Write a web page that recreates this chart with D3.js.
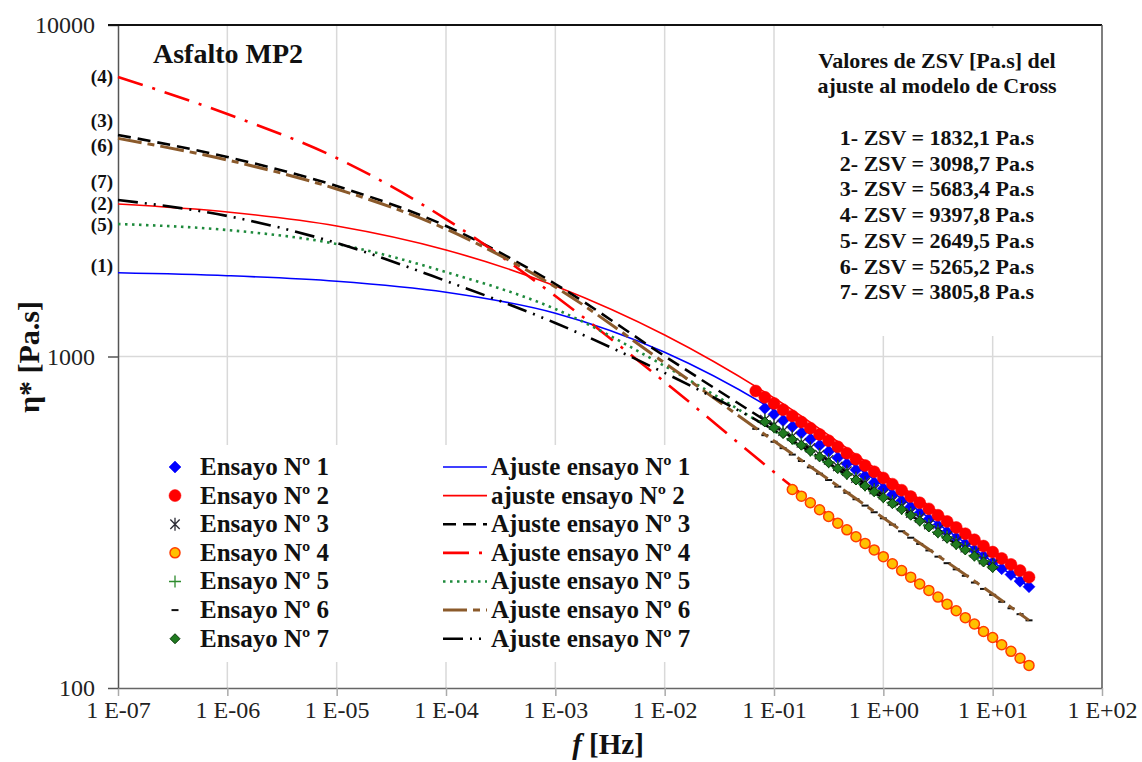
<!DOCTYPE html>
<html>
<head>
<meta charset="utf-8">
<script src="https://cdn.jsdelivr.net/npm/d3@7"></script>
<style>
body { margin: 0; background: #fff; }
svg { font-family: "Liberation Serif", "Times New Roman", serif; }
</style>
</head>
<body>
<svg width="1142" height="762"></svg>
<script>
// axis ticks
var xTicks = [1e-7, 1e-6, 1e-5, 1e-4, 1e-3, 1e-2, 1e-1, 1, 10, 100];
var xTickLabels = ["1 E-07", "1 E-06", "1 E-05", "1 E-04", "1 E-03", "1 E-02", "1 E-01", "1 E+00", "1 E+01", "1 E+02"];
var yTicks = [100, 1000, 10000];
var yTickLabels = ["100", "1000", "10000"];

// measured frequency sweep [Hz]
var freqSweep = [0.0681, 0.0825, 0.1, 0.121, 0.147, 0.178, 0.215, 0.261, 0.316, 0.383, 0.464,
  0.562, 0.681, 0.825, 1, 1.21, 1.47, 1.78, 2.15, 2.61, 3.16, 3.83, 4.64, 5.62, 6.81, 8.25,
  10, 12.1, 14.7, 17.8, 21.5];

// measured eta* [Pa.s] (ensayos)
var eta1 = [698, 669, 641, 614, 588, 563, 540, 517, 495, 475, 455, 436, 417, 400, 383, 367,
  352, 337, 323, 309, 296, 284, 272, 261, 250, 239, 229, 220, 210, 202];            // 0.0825 .. 21.5
var eta2 = [787, 753, 722, 691, 662, 634, 608, 582, 557, 534, 511, 490, 469, 449, 430, 412,
  395, 378, 362, 347, 332, 318, 305, 292, 280, 268, 257, 246, 236, 226, 216];       // 0.0681 .. 21.5
var eta3 = [645, 622, 596, 574, 549, 530, 506, 488, 466, 451, 430, 416, 397, 383, 366, 353,
  337, 326, 311, 300, 287, 277, 265, 256, 244, 236];                                // 0.0825 .. 10
var eta4 = [397, 379, 362, 345, 329, 314, 300, 286, 273, 261, 249, 237, 226, 216, 206, 197,
  188, 179, 171, 163, 156, 148, 142, 135, 129, 123, 117];                           // 0.147 .. 21.5
var eta5 = [640, 612, 590, 565, 545, 520, 502, 480, 463, 442, 428, 408, 394, 376, 363, 347,
  335, 320, 309, 295, 285, 272, 263, 251, 242, 232];                                // 0.0825 .. 10
var eta6 = [605, 579, 553, 529, 506, 484, 463, 443, 424, 405, 388, 371, 355, 339, 325, 311,
  297, 284, 272, 260, 249, 238, 228, 218, 208, 199, 191, 182, 174, 167, 160];       // 0.0681 .. 21.5
var eta7 = [635, 610, 586, 563, 540, 519, 498, 478, 459, 441, 424, 407, 391, 375, 360, 346,
  332, 319, 306, 294, 283, 271, 261, 250, 240, 231];                                // 0.0825 .. 10
var etaStart = [1, 0, 1, 4, 1, 0, 1];   // index of first frequency in freqSweep

// Cross model fits, read at these frequencies
var fitFreq = [1e-7, 1e-6, 1e-5, 1e-4, 1e-3, 1e-2, 0.1, 1, 10, 21.5];
var fit1 = [1789, 1753, 1687, 1563, 1351, 1030, 689, 407, 240, 202];
var fit2 = [2884, 2729, 2476, 2096, 1632, 1161, 750, 442, 261, 219];
var fit3 = [4658, 3998, 3268, 2476, 1654, 1003, 617, 382, 237];
var fit4 = [6968, 5389, 3970, 2598, 1522, 838, 448, 248, 141, 117];
var fit5 = [2510, 2407, 2185, 1798, 1391, 936, 596, 372, 229];
var fit6 = [4550, 3915, 3201, 2424, 1621, 956, 556, 326, 192, 160];
var fit7 = [2966, 2654, 2199, 1690, 1262, 892, 600, 374, 232];

var seriesNames = ["Ensayo Nº 1", "Ensayo Nº 2", "Ensayo Nº 3", "Ensayo Nº 4", "Ensayo Nº 5", "Ensayo Nº 6", "Ensayo Nº 7"];
var fitNames = ["Ajuste ensayo Nº 1", "ajuste ensayo Nº 2", "Ajuste ensayo Nº 3", "Ajuste ensayo Nº 4",
  "Ajuste ensayo Nº 5", "Ajuste ensayo Nº 6", "Ajuste ensayo Nº 7"];
var zsvTitle = ["Valores de ZSV [Pa.s] del", "ajuste al modelo de Cross"];
var zsvLines = ["1- ZSV = 1832,1 Pa.s", "2- ZSV = 3098,7 Pa.s", "3- ZSV = 5683,4 Pa.s", "4- ZSV = 9397,8 Pa.s",
  "5- ZSV = 2649,5 Pa.s", "6- ZSV = 5265,2 Pa.s", "7- ZSV = 3805,8 Pa.s"];
var curveTags = ["(1)", "(2)", "(3)", "(4)", "(5)", "(6)", "(7)"];
var curveTagEta = [1888, 2890, 5169, 6980, 2510, 4345, 3380];

var etaSeries = [eta1, eta2, eta3, eta4, eta5, eta6, eta7];
var fitSeries = [fit1, fit2, fit3, fit4, fit5, fit6, fit7];

var svg = d3.select("svg"),
    margin = {top: 25, left: 118},
    width = 984,
    height = 663;

svg.append("rect").attr("width", 1142).attr("height", 762).attr("fill", "#fff");

var x = d3.scaleLog().domain([1e-7, 100]).range([0, width]),
    y = d3.scaleLog().domain([100, 10000]).range([height, 0]);

var g = svg.append("g").attr("transform", "translate(" + margin.left + "," + margin.top + ")");

// gridlines
g.append("g").selectAll("line")
  .data(xTicks.slice(1, -1))
  .join("line")
    .attr("x1", d => x(d)).attr("x2", d => x(d))
    .attr("y1", 0).attr("y2", height)
    .attr("stroke", "#d9d9d9").attr("stroke-width", 1.5);
g.append("line")
    .attr("x1", 0).attr("x2", width)
    .attr("y1", y(1000)).attr("y2", y(1000))
    .attr("stroke", "#d9d9d9").attr("stroke-width", 1.5);

// white boxes behind the text blocks
g.append("rect").attr("x", 658).attr("y", 3).attr("width", 324).attr("height", 308).attr("fill", "#fff");
g.append("rect").attr("x", 32).attr("y", 420).attr("width", 560).attr("height", 217).attr("fill", "#fff");

// axes
var xAxis = d3.axisBottom(x)
    .tickValues(xTicks)
    .tickFormat((d, i) => xTickLabels[i])
    .tickSize(8).tickSizeOuter(0).tickPadding(5);
var yAxis = d3.axisLeft(y)
    .tickValues(yTicks)
    .tickFormat((d, i) => yTickLabels[i])
    .tickSize(10).tickSizeOuter(0).tickPadding(13);

var xg = g.append("g").attr("transform", "translate(0," + height + ")").call(xAxis);
xg.select(".domain").attr("stroke", "#666").attr("stroke-width", 1.5);
xg.selectAll(".tick line").attr("stroke", "#aaa").attr("stroke-width", 1.5);
xg.selectAll(".tick text").attr("font-size", 24).attr("font-family", "Liberation Serif").attr("fill", "#222");

var yg = g.append("g").call(yAxis);
yg.select(".domain").attr("stroke", "#555").attr("stroke-width", 1.5);
yg.selectAll(".tick line").attr("stroke", "#555").attr("stroke-width", 1.5);
yg.selectAll(".tick text").attr("font-size", 24).attr("font-family", "Liberation Serif").attr("fill", "#222");

// frame
g.append("line").attr("x1", -10).attr("x2", width).attr("y1", 0).attr("y2", 0)
    .attr("stroke", "#111").attr("stroke-width", 2.2);
g.append("line").attr("x1", width).attr("x2", width).attr("y1", 0).attr("y2", height)
    .attr("stroke", "#555").attr("stroke-width", 1.5);

// styles
var fitStyle = [
  {color: "#0000ff", w: 1.6, dash: null},
  {color: "#ff0000", w: 1.6, dash: null},
  {color: "#000000", w: 2.6, dash: "13,7"},
  {color: "#ff0000", w: 2.6, dash: "26,10,3,10"},
  {color: "#1e8a3c", w: 2.6, dash: "2.5,4.5"},
  {color: "#8b5a2b", w: 3, dash: "24,6,7,6"},
  {color: "#000000", w: 2.6, dash: "20,7,2,7,2,7"}
];

var symbolTypes = {
  diamond: {draw: function(c, r) { c.moveTo(0, -r); c.lineTo(r, 0); c.lineTo(0, r); c.lineTo(-r, 0); c.closePath(); }},
  circle: {draw: function(c, r) { c.moveTo(r, 0); c.arc(0, 0, r, 0, 2 * Math.PI); }},
  asterisk: {draw: function(c, r) {
    var k = r * 0.72;
    c.moveTo(0, -r); c.lineTo(0, r);
    c.moveTo(-k, -k); c.lineTo(k, k);
    c.moveTo(-k, k); c.lineTo(k, -k);
  }},
  plus: {draw: function(c, r) { c.moveTo(-r, 0); c.lineTo(r, 0); c.moveTo(0, -r); c.lineTo(0, r); }},
  dash: {draw: function(c, r) { c.moveTo(-r, 0); c.lineTo(r, 0); }}
};

var markerStyle = [
  {type: "diamond", r: 6, fill: "#0000ff", stroke: "#0000ff", sw: 0.5},
  {type: "circle", r: 6, fill: "#ff0000", stroke: "#ff0000", sw: 0.5},
  {type: "asterisk", r: 6.5, fill: "none", stroke: "#2a2a34", sw: 1.3},
  {type: "circle", r: 5, fill: "#ffc000", stroke: "#ff3c00", sw: 1.5},
  {type: "plus", r: 6, fill: "none", stroke: "#2e8b2e", sw: 1.3},
  {type: "dash", r: 3.5, fill: "none", stroke: "#111", sw: 2},
  {type: "diamond", r: 5, fill: "#1f7a1f", stroke: "#0a3a0a", sw: 1}
];

function symbolPath(m) {
  return d3.symbol().type(symbolTypes[m.type]).size(m.r)();
}

function drawMarkers(i) {
  var m = markerStyle[i];
  var pts = etaSeries[i].map((v, j) => [freqSweep[etaStart[i] + j], v]);
  g.append("g").selectAll("path")
    .data(pts)
    .join("path")
      .attr("transform", d => "translate(" + x(d[0]) + "," + y(d[1]) + ")")
      .attr("d", symbolPath(m))
      .attr("fill", m.fill).attr("stroke", m.stroke).attr("stroke-width", m.sw);
}

var line = d3.line()
    .curve(d3.curveMonotoneX)
    .x(d => x(d[0]))
    .y(d => y(d[1]));

// series 6 markers sit under the brown fit line
drawMarkers(5);

fitSeries.forEach(function(vals, i) {
  var s = fitStyle[i];
  g.append("path")
    .datum(vals.map((v, j) => [fitFreq[j], v]))
    .attr("fill", "none")
    .attr("stroke", s.color)
    .attr("stroke-width", s.w)
    .attr("stroke-dasharray", s.dash)
    .attr("d", line);
});

[0, 1, 2, 4, 6, 3].forEach(drawMarkers);

// curve tags at the left edge
g.append("g").selectAll("text")
  .data(curveTags)
  .join("text")
    .attr("x", -5)
    .attr("y", (d, i) => y(curveTagEta[i]))
    .attr("dy", "0.35em")
    .attr("text-anchor", "end")
    .attr("font-size", 19).attr("font-weight", "bold").attr("fill", "#111")
    .text(d => d);

// title
svg.append("text").attr("x", 153).attr("y", 63)
    .attr("font-size", 28).attr("font-weight", "bold").attr("fill", "#111")
    .text("Asfalto MP2");

// ZSV block
var zsv = svg.append("g").attr("font-size", 22).attr("font-weight", "bold")
    .attr("fill", "#111").attr("text-anchor", "middle");
zsv.selectAll("text.t").data(zsvTitle).join("text").attr("class", "t")
    .attr("x", 937).attr("y", (d, i) => 68 + i * 25.3).text(d => d);
zsv.selectAll("text.v").data(zsvLines).join("text").attr("class", "v")
    .attr("x", 937).attr("y", (d, i) => 145 + i * 25.7).text(d => d);

// legend
var legendRow = i => 475 + i * 28.62;
var leg = svg.append("g").attr("font-size", 25).attr("font-weight", "bold").attr("fill", "#111");
seriesNames.forEach(function(name, i) {
  var m = markerStyle[i];
  leg.append("path")
    .attr("transform", "translate(175," + (legendRow(i) - 8) + ")")
    .attr("d", symbolPath(m))
    .attr("fill", m.fill).attr("stroke", m.stroke).attr("stroke-width", m.sw);
  leg.append("text").attr("x", 200).attr("y", legendRow(i)).text(name);
});
fitNames.forEach(function(name, i) {
  var s = fitStyle[i];
  leg.append("line")
    .attr("x1", 443).attr("x2", 487)
    .attr("y1", legendRow(i) - 8).attr("y2", legendRow(i) - 8)
    .attr("stroke", s.color).attr("stroke-width", s.w)
    .attr("stroke-dasharray", s.dash);
  leg.append("text").attr("x", 491).attr("y", legendRow(i)).text(name);
});

// axis titles
svg.append("text")
    .attr("transform", "translate(39,357) rotate(-90)")
    .attr("text-anchor", "middle")
    .attr("font-size", 30).attr("font-weight", "bold").attr("fill", "#111")
    .text("η* [Pa.s]");
var xt = svg.append("text")
    .attr("x", 608).attr("y", 754)
    .attr("text-anchor", "middle")
    .attr("font-size", 29).attr("font-weight", "bold").attr("fill", "#111");
xt.append("tspan").attr("font-style", "italic").text("f");
xt.append("tspan").text(" [Hz]");
</script>
</body>
</html>
